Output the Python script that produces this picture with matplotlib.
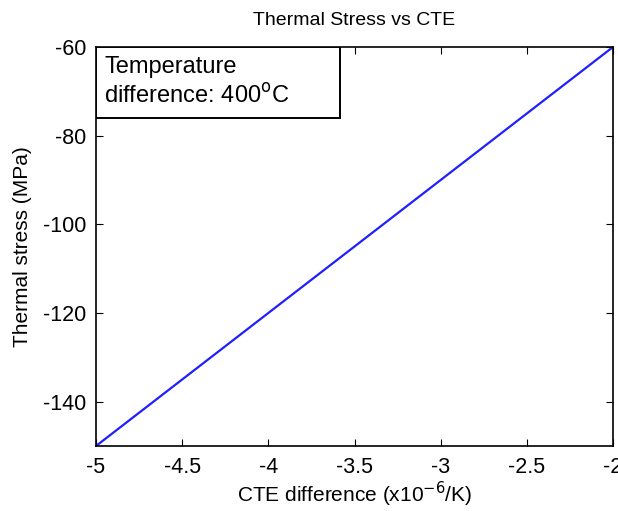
import numpy as np
import matplotlib
matplotlib.use('Agg')
import matplotlib.pyplot as plt
from matplotlib.patches import Rectangle

plt.rcParams['font.family'] = ['Liberation Sans', 'DejaVu Sans']
plt.rcParams['axes.unicode_minus'] = False

# CTE difference (x1e-6 /K) and resulting thermal stress (MPa), dT = 400 C
cte_diff = [-5, -4.5, -4, -3.5, -3, -2.5, -2]
stress = [-150, -135, -120, -105, -90, -75, -60]
xticks = [-5, -4.5, -4, -3.5, -3, -2.5, -2]
yticks = [-140, -120, -100, -80, -60]

fig = plt.figure(figsize=(6.18, 5.11), dpi=100)
ax = fig.add_axes([96/618, 65/511, 517/618, 399/511])

ax.plot(cte_diff, stress, color='#1f1fff', lw=1.6)

ax.set_xlim(-5, -2)
ax.set_ylim(-150, -60)
ax.set_xticks(xticks)
ax.set_xticklabels(['-5', '-4.5', '-4', '-3.5', '-3', '-2.5', '-2'])
ax.set_yticks(yticks)
ax.tick_params(direction='in', top=True, right=True, labelsize=15.5, length=5, pad=7)
ax.tick_params(axis='x', pad=8)
for s in ax.spines.values():
    s.set_linewidth(1.2)

ax.set_title('Thermal Stress vs CTE', fontsize=14, pad=16)
ax.set_xlabel('CTE difference (x10$^{-6}$/K)', fontsize=15, labelpad=1)
ax.set_ylabel('Thermal stress (MPa)', fontsize=15, labelpad=8)

# annotation box in the upper-left corner
ax.add_patch(Rectangle((0, 0.822), 0.472, 0.178, transform=ax.transAxes,
                       fc='white', ec='black', lw=1.4, zorder=3))
ax.text(0.0155, 0.977, 'Temperature\ndifference: 400$^{\\rm o}$C', transform=ax.transAxes,
        va='top', ha='left', fontsize=17, linespacing=1.3, zorder=4)

fig.savefig('out.png', dpi=100)
